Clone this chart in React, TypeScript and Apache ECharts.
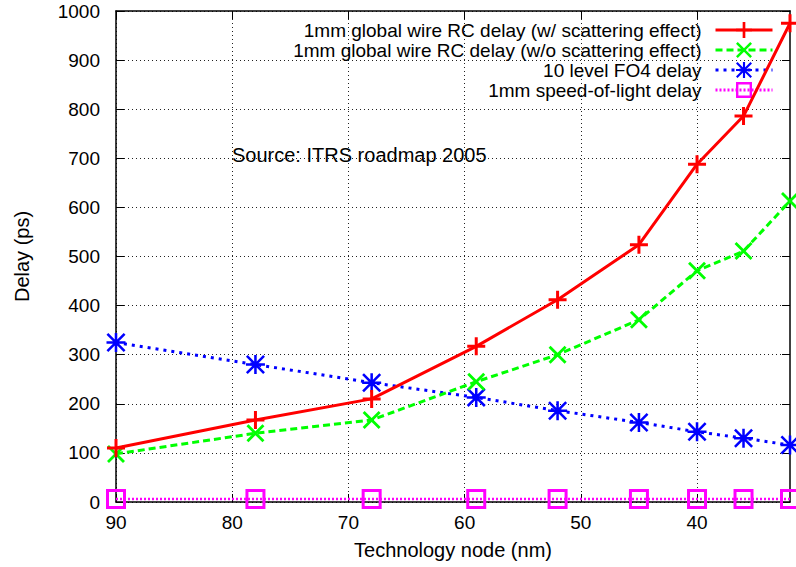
import React, { useEffect, useRef } from "react";
import * as echarts from "echarts";

// Technology nodes (nm)
const nodes = [90, 78, 68, 59, 52, 45, 40, 36, 32];
// Delays (ps)
const rcWithScattering = [110, 167, 210, 317, 412, 524, 688, 786, 975];
const rcWithoutScattering = [98, 140, 167, 245, 300, 371, 471, 511, 613];
const fo4Delay = [325, 280, 243, 213, 186, 162, 143, 130, 116];
const speedOfLight = [6, 6, 6, 6, 6, 6, 6, 6, 6];

const seriesNames = [
  "1mm global wire RC delay (w/ scattering effect)",
  "1mm global wire RC delay (w/o scattering effect)",
  "10 level FO4 delay",
  "1mm speed-of-light delay",
];

const xTicks = [90, 80, 70, 60, 50, 40];

const FONT = "'Liberation Sans', Arial, Helvetica, sans-serif";

// Marker outlines as filled shapes (stroke thickness baked in)
const PLUS =
  "path://M7.5 0H10.5V7.5H18V10.5H10.5V18H7.5V10.5H0V7.5H7.5Z";
const CROSS =
  "path://M0 2L2 0L9 7L16 0L18 2L11 9L18 16L16 18L9 11L2 18L0 16L7 9Z";
const STAR =
  "path://M7.8 0H10.2V7.8H18V10.2H10.2V18H7.8V10.2H0V7.8H7.8Z" +
  "M0 1.7L1.7 0L9 7.3L16.3 0L18 1.7L10.7 9L18 16.3L16.3 18L9 10.7L1.7 18L0 16.3L7.3 9Z";
const SQUARE = "path://M0 0H20V20H0ZM3 3V17H17V3Z";

const zip = (ys: number[]) => nodes.map((x, i) => [x, ys[i]]);

export default function App() {
  const ref = useRef<HTMLDivElement>(null);

  useEffect(() => {
    if (!ref.current) return;
    const chart = echarts.init(ref.current, undefined, { renderer: "svg" });

    const gridLine = {
      show: true,
      lineStyle: { color: "#222", width: 1, type: [1, 3] as number[] },
    };
    const axisLine = { show: true, onZero: false, lineStyle: { color: "#000", width: 1.5 } };
    const tick = { show: true, inside: true, length: 8, lineStyle: { color: "#000", width: 1 } };
    const tickLabel = { color: "#000", fontSize: 19, fontFamily: FONT };
    const titleText = { color: "#000", fontSize: 20, fontFamily: FONT };

    chart.setOption({
      animation: false,
      backgroundColor: "#fff",
      textStyle: { fontFamily: FONT },
      grid: { left: 116, right: 6, top: 11, bottom: 65, containLabel: false },
      xAxis: [
        {
          type: "value",
          min: 32,
          max: 90,
          inverse: true,
          name: "Technology node (nm)",
          nameLocation: "middle",
          nameGap: 38,
          nameTextStyle: titleText,
          axisLine,
          axisTick: { ...tick, customValues: xTicks },
          axisLabel: { ...tickLabel, margin: 11, customValues: xTicks, formatter: (v: number) => String(v) },
          splitLine: gridLine,
        },
        {
          type: "value",
          min: 32,
          max: 90,
          inverse: true,
          position: "top",
          axisLine,
          axisTick: { ...tick, customValues: xTicks },
          axisLabel: { show: false },
          splitLine: { show: false },
        },
      ],
      yAxis: [
        {
          type: "value",
          min: 0,
          max: 1000,
          interval: 100,
          name: "Delay (ps)",
          nameLocation: "middle",
          nameGap: 84,
          nameTextStyle: titleText,
          axisLine,
          axisTick: tick,
          axisLabel: { ...tickLabel, margin: 16, formatter: (v: number) => String(v) },
          splitLine: gridLine,
        },
        {
          type: "value",
          min: 0,
          max: 1000,
          interval: 100,
          position: "right",
          axisLine,
          axisTick: tick,
          axisLabel: { show: false },
          splitLine: { show: false },
        },
      ],
      legend: {
        right: 22,
        top: 20,
        padding: 0,
        orient: "vertical",
        align: "right",
        itemGap: 0,
        itemWidth: 57,
        itemHeight: 20,
        lineStyle: { width: 3 },
        textStyle: { color: "#000", fontFamily: FONT, fontSize: 19, lineHeight: 20, padding: [0, 9, 0, 0] },
        data: seriesNames,
      },
      graphic: [
        {
          type: "text",
          left: 232,
          top: 145,
          style: {
            text: "Source: ITRS roadmap 2005",
            fontSize: 20,
            fontFamily: FONT,
            fill: "#000",
          },
        },
      ],
      series: [
        {
          name: seriesNames[0],
          type: "line",
          data: zip(rcWithScattering),
          symbol: PLUS,
          symbolSize: 18,
          color: "#ff0000",
          lineStyle: { width: 3, color: "#ff0000", type: "solid" },
          z: 5,
        },
        {
          name: seriesNames[1],
          type: "line",
          data: zip(rcWithoutScattering),
          symbol: CROSS,
          symbolSize: 18,
          color: "#00ff00",
          lineStyle: { width: 3, color: "#00ff00", type: [7, 4] },
          z: 4,
        },
        {
          name: seriesNames[2],
          type: "line",
          data: zip(fo4Delay),
          symbol: STAR,
          symbolSize: 19,
          color: "#0000ff",
          lineStyle: { width: 3, color: "#0000ff", type: [3, 5] },
          z: 3,
        },
        {
          name: seriesNames[3],
          type: "line",
          data: zip(speedOfLight),
          symbol: SQUARE,
          symbolSize: 20,
          color: "#ff00ff",
          lineStyle: { width: 2.5, color: "#ff00ff", type: [2, 2] },
          z: 2,
        },
      ],
    });

    return () => chart.dispose();
  }, []);

  return <div ref={ref} style={{ width: 796, height: 567, position: "absolute", left: 0, top: 0 }} />;
}
